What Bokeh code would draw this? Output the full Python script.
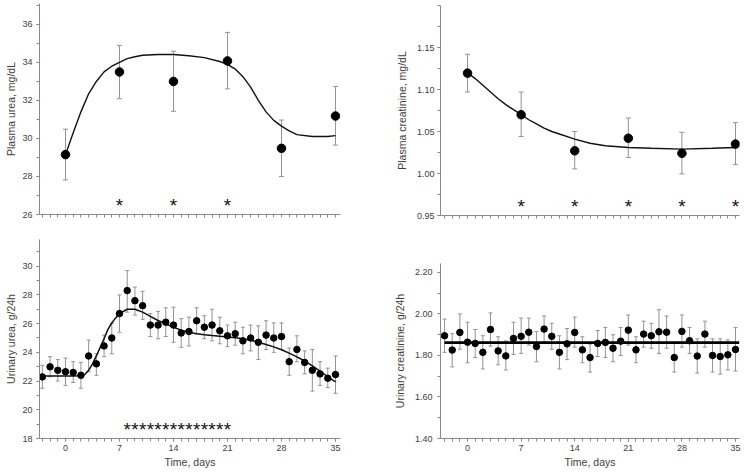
from bokeh.plotting import figure
from bokeh.models import (Range1d, FixedTicker, Whisker, TeeHead, ColumnDataSource,
                          PrintfTickFormatter)
from bokeh.layouts import column, row
from bokeh.embed import file_html
from bokeh.resources import INLINE
from bokeh.core.properties import value

# ---------------- data ----------------
# Plasma urea (mg/dL)
pu_days = [0, 7, 14, 21, 28, 35]
pu_mean = [29.15, 33.5, 33.0, 34.08, 29.48, 31.18]
pu_low = [27.82, 32.09, 31.43, 32.61, 28.0, 29.65]
pu_high = [30.49, 34.9, 34.59, 35.58, 30.97, 32.74]
pu_fit_days = [0, 1, 2, 3, 4, 5, 6, 7, 8, 9, 10, 12, 14, 16, 18, 20, 21, 22, 23, 24,
               25, 26, 27, 28, 29, 30, 32, 34, 35]
pu_fit = [29.15, 30.3, 31.4, 32.35, 33.0, 33.5, 33.8, 34.0, 34.2, 34.3, 34.38, 34.42,
          34.42, 34.35, 34.25, 34.05, 33.9, 33.65, 33.25, 32.7, 32.0, 31.4, 30.95,
          30.65, 30.4, 30.2, 30.1, 30.1, 30.15]
pu_sig_days = [7, 14, 21]
pu_sig_level = 26.68

# Plasma creatinine (mg/dL)
pc_days = [0, 7, 14, 21, 28, 35]
pc_mean = [1.1195, 1.070, 1.027, 1.042, 1.024, 1.035]
pc_low = [1.097, 1.044, 1.0055, 1.019, 0.9995, 1.0106]
pc_high = [1.142, 1.097, 1.050, 1.066, 1.049, 1.0605]
pc_fit_days = [0, 1, 2, 3, 4, 5, 6, 7, 8, 9, 10, 11, 12, 14, 16, 18, 21, 24, 28, 32, 35]
pc_fit = [1.12, 1.113, 1.105, 1.097, 1.089, 1.082, 1.076, 1.07, 1.064, 1.059, 1.054,
          1.050, 1.047, 1.041, 1.036, 1.033, 1.031, 1.030, 1.029, 1.030, 1.031]
pc_sig_days = [7, 14, 21, 28, 35]
pc_sig_level = 0.965

# Urinary urea (g/24h)
uu_days = list(range(-3, 36))
uu_mean = [22.29, 22.99, 22.75, 22.65, 22.6, 22.4, 23.75, 23.2, 24.45, 25.0, 26.7,
           28.3, 27.6, 27.25, 25.9, 25.9, 26.1, 25.9, 25.35, 25.45, 26.2, 25.75, 25.9,
           25.5, 25.15, 25.3, 24.8, 25.0, 24.7, 25.2, 25.0, 25.1, 23.35, 24.2, 23.3,
           22.75, 22.5, 22.2, 22.45]
uu_low = [21.5, 22.3, 22.0, 21.7, 21.9, 21.5, 22.65, 22.4, 23.7, 23.9, 25.4, 26.8,
          26.6, 26.3, 25.1, 24.95, 25.1, 24.7, 24.35, 24.45, 25.3, 24.95, 24.8, 24.6,
          24.4, 24.5, 23.9, 24.1, 23.5, 24.2, 24.0, 24.2, 22.4, 23.35, 22.5, 21.3,
          21.7, 21.55, 21.15]
uu_high = [23.1, 23.7, 23.5, 23.6, 23.35, 23.3, 24.85, 23.9, 25.2, 26.0, 28.0, 29.7,
           28.55, 28.25, 26.7, 26.85, 27.1, 27.15, 26.35, 26.45, 27.1, 26.55, 27.0,
           26.45, 25.9, 26.1, 25.75, 25.9, 25.85, 26.2, 26.05, 26.05, 24.3, 25.15,
           24.1, 24.2, 23.35, 22.9, 23.75]
uu_fit_days = [-3, -2, -1, 0, 1, 2, 2.5, 3, 3.5, 4, 4.5, 5, 5.5, 6, 6.5, 7, 8, 9, 10,
               11, 12, 13, 14, 15, 16, 17, 18, 19, 20, 21, 22, 23, 24, 25, 26, 27, 28,
               29, 30, 31, 32, 33, 34, 35]
uu_fit = [22.35, 22.35, 22.35, 22.35, 22.35, 22.37, 22.45, 22.75, 23.2, 23.75, 24.35,
          24.95, 25.6, 26.05, 26.4, 26.7, 27.0, 27.0, 26.8, 26.5, 26.22, 25.98, 25.75,
          25.55, 25.4, 25.3, 25.23, 25.17, 25.12, 25.07, 25.02, 24.95, 24.85, 24.7,
          24.55, 24.38, 24.18, 23.95, 23.68, 23.4, 23.05, 22.7, 22.3, 21.95]
uu_sig_days = list(range(8, 22))
uu_sig_level = 18.88

# Urinary creatinine (g/24h)
uc_days = list(range(-3, 36))
uc_mean = [1.895, 1.826, 1.911, 1.864, 1.858, 1.815, 1.925, 1.822, 1.798, 1.882, 1.892,
           1.912, 1.843, 1.927, 1.892, 1.815, 1.856, 1.911, 1.827, 1.79, 1.858, 1.863,
           1.835, 1.869, 1.922, 1.827, 1.903, 1.895, 1.914, 1.912, 1.79, 1.916, 1.871,
           1.797, 1.903, 1.80, 1.795, 1.803, 1.829]
uc_low = [1.815, 1.745, 1.83, 1.765, 1.79, 1.735, 1.845, 1.755, 1.73, 1.805, 1.81,
          1.85, 1.77, 1.865, 1.83, 1.735, 1.78, 1.84, 1.765, 1.72, 1.795, 1.79, 1.77,
          1.80, 1.85, 1.765, 1.84, 1.835, 1.81, 1.835, 1.72, 1.84, 1.81, 1.715, 1.84,
          1.72, 1.71, 1.73, 1.725]
uc_high = [1.975, 1.905, 2.0, 1.96, 1.925, 1.895, 2.005, 1.89, 1.87, 1.96, 1.98, 1.98,
           1.915, 1.99, 1.955, 1.895, 1.93, 1.985, 1.89, 1.855, 1.92, 1.935, 1.9,
           1.935, 1.995, 1.89, 1.965, 1.955, 2.02, 1.99, 1.86, 1.995, 1.935, 1.88,
           1.965, 1.88, 1.88, 1.875, 1.935]
uc_line_days = [-3, 35.5]
uc_line = [1.862, 1.862]

x_major = [0, 7, 14, 21, 28, 35]
x_minor = list(range(-3, 36))

FONT = "Liberation Sans"
TXT = "#404040"
AXC = "#8a8a8a"
ERR = "#939393"


def make_fig(fw, fh, xr, yr, mbl, mbr, mbt, mbb, ylabel, yticks, yminor,
             yfmt=None, xlabels=True, lab_standoff=4, tick_standoff=5):
    p = figure(frame_width=fw, frame_height=fh, x_range=Range1d(*xr),
               y_range=Range1d(*yr), title=None,
               output_backend="svg", toolbar_location=None,
               min_border_left=mbl, min_border_right=mbr,
               min_border_top=mbt, min_border_bottom=mbb)
    p.xgrid.visible = False
    p.ygrid.visible = False
    p.outline_line_color = None
    p.background_fill_color = "white"
    p.border_fill_color = "white"
    for ax in (p.xaxis[0], p.yaxis[0]):
        ax.axis_line_color = AXC
        ax.major_tick_line_color = AXC
        ax.minor_tick_line_color = AXC
        ax.major_tick_out = 3
        ax.major_tick_in = 0
        ax.minor_tick_out = 3
        ax.minor_tick_in = 0
        ax.major_label_text_font = FONT
        ax.major_label_text_font_size = "9px"
        ax.major_label_text_color = TXT
        ax.axis_label_text_font = FONT
        ax.axis_label_text_font_size = "10.5px"
        ax.axis_label_text_font_style = "normal"
        ax.axis_label_text_color = TXT
    if xlabels:
        p.xaxis.ticker = FixedTicker(ticks=x_major, minor_ticks=x_minor)
        p.xaxis.axis_label = "Time, days"
        p.xaxis.major_label_standoff = 3
        p.xaxis.axis_label_standoff = 2
    else:
        p.xaxis.ticker = FixedTicker(ticks=[], minor_ticks=x_minor)
    p.yaxis.ticker = FixedTicker(ticks=yticks, minor_ticks=yminor)
    if yfmt:
        p.yaxis.formatter = PrintfTickFormatter(format=yfmt)
    p.yaxis.axis_label = ylabel
    p.yaxis.major_label_standoff = tick_standoff
    p.yaxis.axis_label_standoff = lab_standoff
    return p


def errbars(p, xs, low, high, head):
    src = ColumnDataSource(dict(x=xs, lower=low, upper=high))
    w = Whisker(source=src, base="x", lower="lower", upper="upper",
                line_color=ERR, line_width=1,
                upper_head=TeeHead(size=head, line_color=ERR, line_width=1),
                lower_head=TeeHead(size=head, line_color=ERR, line_width=1))
    p.add_layout(w)


def stars(p, xs, level, size, yoff):
    p.text(x=xs, y=[level] * len(xs), text=["*"] * len(xs), text_font=value(FONT),
           text_font_size=size, text_align="center", text_baseline="middle",
           y_offset=yoff, text_color="#111111")


XL = (-3.37, 35.65)
XR = (-3.53, 35.52)

# ---- top-left: plasma urea
p1 = make_fig(301, 211, XL, (26, 37.1), 39, 38, 3, 20,
              "Plasma urea, mg/dL", [26, 28, 30, 32, 34, 36], list(range(26, 38)),
              xlabels=False, lab_standoff=2, tick_standoff=4)
errbars(p1, pu_days, pu_low, pu_high, 5)
p1.line(pu_fit_days, pu_fit, line_color="#111111", line_width=1.4)
p1.scatter(pu_days, pu_mean, size=8.5, color="black")
stars(p1, pu_sig_days, pu_sig_level, "19px", 4)

# ---- top-right: plasma creatinine
p2 = make_fig(299, 210, XR, (0.95, 1.20), 62, 2, 5, 19,
              "Plasma creatinine, mg/dL", [0.95, 1.0, 1.05, 1.10, 1.15],
              [0.95 + 0.025 * i for i in range(11)], yfmt="%.2f",
              xlabels=False, lab_standoff=6, tick_standoff=3)
errbars(p2, pc_days, pc_low, pc_high, 5)
p2.line(pc_fit_days, pc_fit, line_color="#111111", line_width=1.4)
p2.scatter(pc_days, pc_mean, size=8.5, color="black")
stars(p2, pc_sig_days, pc_sig_level, "19px", 4)

# ---- bottom-left: urinary urea
p3 = make_fig(301, 199, XL, (18, 31.86), 39, 38, 5, 33,
              "Urinary urea, g/24h", [18, 20, 22, 24, 26, 28, 30], list(range(18, 32)),
              lab_standoff=2, tick_standoff=4)
errbars(p3, uu_days, uu_low, uu_high, 4)
p3.line(uu_fit_days, uu_fit, line_color="#111111", line_width=1.5)
p3.scatter(uu_days, uu_mean, size=6.5, color="black")
stars(p3, uu_sig_days, uu_sig_level, "19px", 4)

# ---- bottom-right: urinary creatinine
p4 = make_fig(299, 175, XR, (1.40, 2.243), 62, 2, 29, 33,
              "Urinary creatinine, g/24h", [1.40, 1.60, 1.80, 2.00, 2.20],
              [1.40 + 0.1 * i for i in range(9)], yfmt="%.2f",
              lab_standoff=6, tick_standoff=5)
errbars(p4, uc_days, uc_low, uc_high, 4)
p4.scatter(uc_days, uc_mean, size=6.5, color="black")
p4.line(uc_line_days, uc_line, line_color="black", line_width=2.8)

layout = row(column(p1, p3), column(p2, p4))
open("out.html", "w").write(file_html(layout, INLINE))
